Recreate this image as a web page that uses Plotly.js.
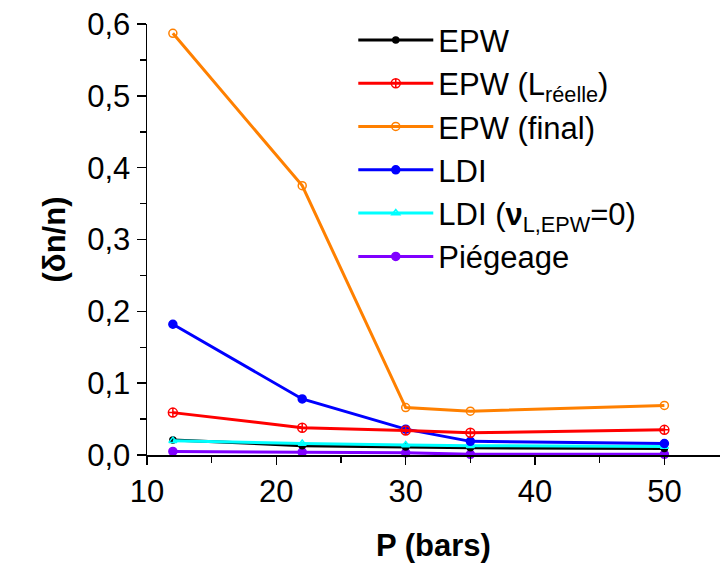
<!DOCTYPE html>
<html>
<head>
<meta charset="utf-8">
<script src="https://cdn.plot.ly/plotly-3.0.1.min.js"></script>
<style>html,body{margin:0;padding:0;background:#fff;}#chart{width:723px;height:566px;}</style>
</head>
<body>
<div id="chart"></div>
<script>
const pressure = [12, 22, 30, 35, 50];
const epw = [0.021, 0.013, 0.011, 0.010, 0.009];
const epwReelle = [0.059, 0.038, 0.034, 0.031, 0.035];
const epwFinal = [0.587, 0.375, 0.066, 0.061, 0.069];
const ldi = [0.182, 0.078, 0.036, 0.019, 0.016];
const ldiNu0 = [0.020, 0.016, 0.014, 0.013, 0.012];
const piegeage = [0.005, 0.004, 0.003, 0.001, 0.001];
const names = ['EPW', 'EPW (L<sub>réelle</sub>)', 'EPW (final)', 'LDI', 'LDI (<b>ν</b><sub>L,EPW</sub>=0)', 'Piégeage'];
const xTicks = [10, 20, 30, 40, 50];
const yTicks = [0, 0.1, 0.2, 0.3, 0.4, 0.5, 0.6];

const FONT = 'Liberation Sans, Arial, sans-serif';
function tr(y, name, color, symbol, size) {
  return {x: pressure, y: y, name: name, type: 'scatter', mode: 'lines+markers',
    line: {color: color, width: 3},
    marker: {symbol: symbol, size: size, color: color, line: {color: color, width: 1.5}},
    cliponaxis: false};
}
const data = [
  tr(piegeage, names[5], '#8000ff', 'circle', 8),
  tr(epw, names[0], '#000000', 'circle', 6),
  tr(ldiNu0, names[4], '#00ffff', 'triangle-up-open', 7),
  tr(ldi, names[3], '#0000ff', 'circle', 8),
  tr(epwReelle, names[1], '#ff0000', 'circle-cross-open', 9),
  tr(epwFinal, names[2], '#ff8000', 'circle-open', 8)
];
const order = [1, 4, 5, 3, 2, 0];
data.forEach((d, i) => { d.legendrank = order.indexOf(i) + 1; });

const layout = {
  width: 723, height: 566,
  margin: {l: 147, r: 3, t: 24, b: 111},
  paper_bgcolor: '#fff', plot_bgcolor: '#fff',
  separators: ',.',
  font: {family: FONT, size: 30, color: '#000'},
  showlegend: true,
  legend: {x: 0.36, y: 1.025, xanchor: 'left', yanchor: 'top', bgcolor: 'rgba(0,0,0,0)',
    itemwidth: 75,
    font: {family: FONT, size: 31, color: '#000'}, traceorder: 'normal'},
  xaxis: {range: [10, 54.3], tickvals: xTicks, ticktext: xTicks.map(String),
    showgrid: false, zeroline: false, showline: true, linecolor: '#000', linewidth: 1.5,
    ticks: 'outside', ticklen: 8, tickwidth: 1.5, tickcolor: '#000',
    minor: {dtick: 5, tick0: 10, ticks: 'outside', ticklen: 6, tickwidth: 1.5, tickcolor: '#000', showgrid: false},
    tickfont: {family: FONT, size: 31}, fixedrange: true,
    title: {text: '<b>P (bars)</b>', font: {family: FONT, size: 31}, standoff: 26}},
  yaxis: {range: [0, 0.6], tickvals: yTicks, ticktext: yTicks.map(v => v.toFixed(1).replace('.', ',')),
    showgrid: false, zeroline: false, showline: true, linecolor: '#000', linewidth: 1.5,
    ticks: 'outside', ticklen: 9, tickwidth: 1.5, tickcolor: '#000',
    minor: {dtick: 0.05, tick0: 0, ticks: 'outside', ticklen: 6, tickwidth: 1.5, tickcolor: '#000', showgrid: false},
    tickfont: {family: FONT, size: 31}, fixedrange: true,
    title: {text: '<b>(δn/n)</b>', font: {family: FONT, size: 31}, standoff: 12}}
};
Plotly.newPlot('chart', data, layout, {displayModeBar: false, staticPlot: true});
</script>
</body>
</html>
